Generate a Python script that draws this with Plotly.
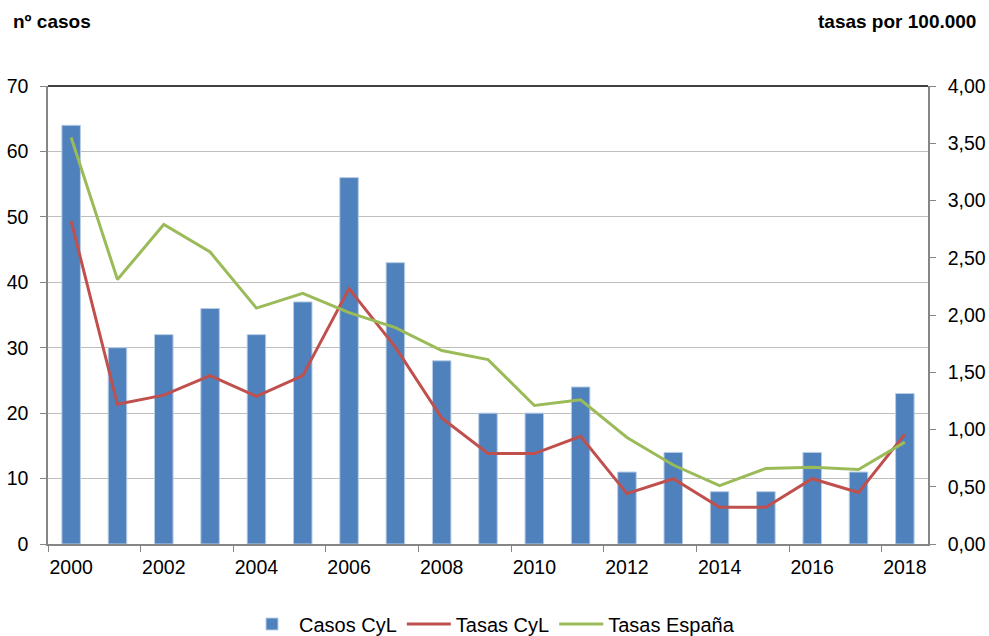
import plotly.graph_objects as go

years = list(range(2000, 2019))
casos_cyl = [64, 30, 32, 36, 32, 37, 56, 43, 28, 20, 20, 24, 11, 14, 8, 8, 14, 11, 23]
tasas_cyl = [2.82, 1.22, 1.30, 1.47, 1.29, 1.47, 2.23, 1.72, 1.10, 0.79, 0.79, 0.94,
             0.44, 0.57, 0.32, 0.32, 0.57, 0.45, 0.96]
tasas_esp = [3.55, 2.31, 2.79, 2.55, 2.06, 2.19, 2.02, 1.89, 1.69, 1.61, 1.21, 1.26,
             0.93, 0.69, 0.51, 0.66, 0.67, 0.65, 0.89]
label_years = [y for y in years if y % 2 == 0]
boundary_ticks = [y - 0.5 for y in label_years]

FONT = "Arial, Liberation Sans, sans-serif"
GRAY = "#868686"

W, H = 989, 636
ML, MR, MT, MB = 48, 61, 86, 92
PW, PH = W - ML - MR, H - MT - MB

fig = go.Figure()
fig.add_trace(go.Bar(x=years, y=casos_cyl, name="Casos CyL", width=0.4,
                     marker=dict(color="#4F81BD", line=dict(color="#B9CDE5", width=1)),
                     yaxis="y"))
fig.add_trace(go.Scatter(x=years, y=tasas_cyl, name="Tasas CyL", mode="lines",
                         line=dict(color="#C0504D", width=3), yaxis="y2"))
fig.add_trace(go.Scatter(x=years, y=tasas_esp, name="Tasas España", mode="lines",
                         line=dict(color="#9BBB59", width=3), yaxis="y2"))

fig.update_layout(
    width=W, height=H,
    margin=dict(l=ML, r=MR, t=MT, b=MB, autoexpand=False),
    paper_bgcolor="white", plot_bgcolor="white",
    separators=",.",
    font=dict(family=FONT, size=19.5, color="black"),
    showlegend=True,
    legend=dict(orientation="h", xref="container", x=245 / W, xanchor="left",
                yref="container", y=12 / H, yanchor="middle",
                font=dict(size=20), itemwidth=44, traceorder="normal",
                bgcolor="rgba(0,0,0,0)"),
    xaxis=dict(range=[1999.5, 2018.5], tickmode="array", tickvals=label_years,
               ticktext=[str(y) for y in label_years], ticks="", showgrid=False,
               showline=True, linecolor=GRAY, linewidth=1.5, zeroline=False,
               ticklabelstandoff=5, automargin=False,
               minor=dict(tickmode="array", tickvals=boundary_ticks, ticks="outside",
                          ticklen=6, tickcolor=GRAY, showgrid=False)),
    yaxis=dict(range=[0, 70], dtick=10, tickmode="linear", ticks="outside", ticklen=6,
               tickcolor=GRAY, showline=True, linecolor=GRAY, linewidth=1.5,
               showgrid=True, gridcolor="#BEBEBE", gridwidth=1.2, zeroline=False,
               ticklabelstandoff=8, automargin=False),
    yaxis2=dict(range=[0, 4], dtick=0.5, tickmode="linear", tickformat=".2f",
                overlaying="y", side="right", ticks="outside", ticklen=6,
                tickcolor=GRAY, showline=True, linecolor=GRAY, linewidth=1.5,
                showgrid=False, zeroline=False, ticklabelstandoff=8, automargin=False),
    shapes=[dict(type="line", xref="paper", yref="paper", x0=0, x1=1, y0=1, y1=1,
                 line=dict(color="black", width=1.5))],
    annotations=[
        dict(text="<b>nº casos</b>", xref="paper", yref="paper",
             x=(11 - ML) / PW, y=(H - MB - 22) / PH,
             xanchor="left", yanchor="middle", showarrow=False,
             font=dict(size=19, family=FONT)),
        dict(text="<b>tasas por 100.000</b>", xref="paper", yref="paper",
             x=(978 - ML) / PW, y=(H - MB - 22) / PH, xanchor="right", yanchor="middle",
             showarrow=False, font=dict(size=19, family=FONT)),
    ],
)

post = ("document.body.style.margin='0';"
        "document.body.style.overflow='hidden';"
        "document.documentElement.style.overflow='hidden';")
fig.write_html("out.html", post_script=post, config={"displayModeBar": False})
